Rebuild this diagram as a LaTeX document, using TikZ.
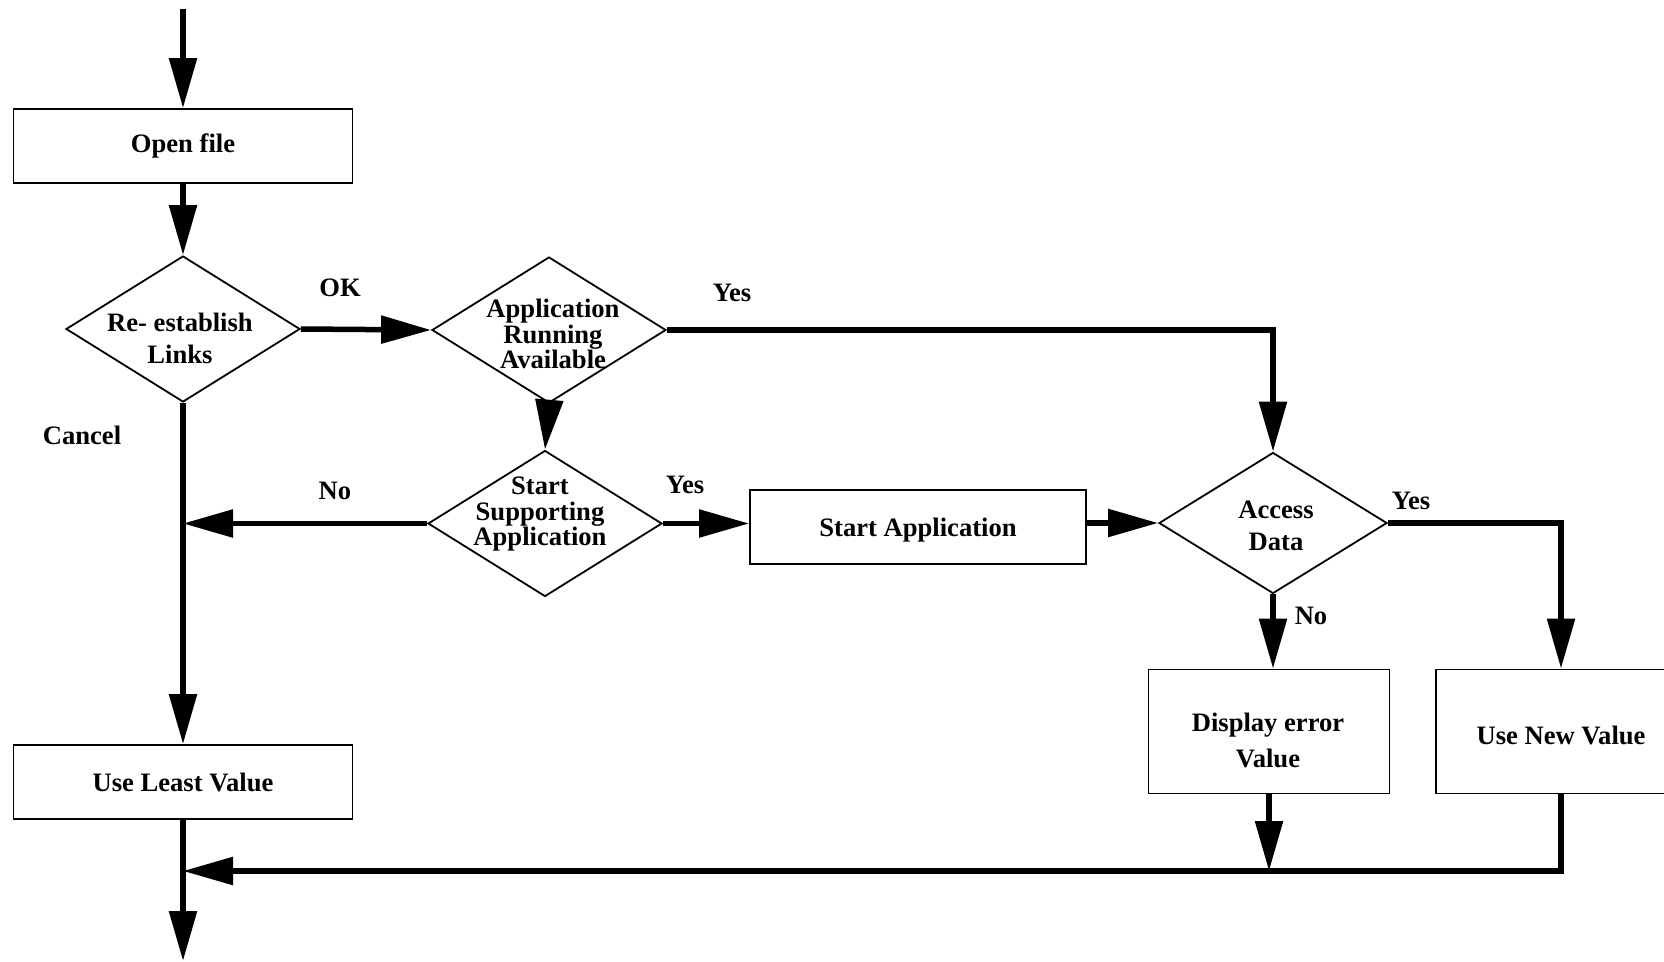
\documentclass[tikz,border=0pt]{standalone}
\usepackage{fontspec}
\setmainfont{Liberation Serif}
\usetikzlibrary{arrows.meta,shapes.geometric}
\begin{document}
\begin{tikzpicture}[x=1pt,y=-1pt,
  every node/.style={font=\fontsize{26.6}{32}\selectfont\bfseries},
  box/.style={draw,line width=1.8pt,rectangle,inner sep=0pt,
    minimum width=339pt,minimum height=74pt,align=center},
  decision/.style={draw,line width=1.8pt,diamond,inner sep=0pt,
    minimum width=234pt,minimum height=146pt},
  caption/.style={inner sep=0pt,align=center},
  flow/.style={line width=5.5pt,-{Triangle[length=50pt,width=27pt]}},
]
\useasboundingbox (0,0) rectangle (1664,961);

% process boxes
\node[box] (open) at (183,146) {Open file};
\node[box,minimum width=336pt,text depth=0pt] (sa) at (918,527) {Start Application};
\node[box,minimum width=241pt,minimum height=124pt] (disp) at (1269,731.5) {};
\node[caption,font=\fontsize{26.6}{36}\selectfont\bfseries] (dispT) at (1268,740) {Display error\\Value};
\node[box,minimum width=250pt,minimum height=124pt] (unv) at (1561,731.5) {};
\node[caption] (unvT) at (1561,735.5) {Use New Value};
\node[box] (ulv) at (183,782) {Use Least Value};

% decisions (shape and text set apart)
\node[decision] (rel) at (183,329) {};
\node[caption] (relT) at (180,338.5) {Re- establish\\Links};
\node[decision] (app) at (549,330) {};
\node[caption,font=\fontsize{26.6}{25.5}\selectfont\bfseries] (appT) at (553,334) {Application\\Running\\Available};
\node[decision] (ss) at (545,523.5) {};
\node[caption,font=\fontsize{26.6}{25.5}\selectfont\bfseries] (ssT) at (540,514.5) {Start\\Supporting\\Application};
\node[decision,minimum width=228pt,minimum height=141pt] (acc) at (1273,523) {};
\node[caption] (accT) at (1276,526) {Access\\Data};

% free ends
\coordinate (start) at (183,9);
\coordinate (finish) at (183,961);
\coordinate (join) at (1269,871);

% connectors
\draw[flow] (start) -- (open.north);
\draw[flow] (open.south) -- (rel.north);
\draw[flow] (rel.east) -- (app.west);
\draw[flow] (app.east) -| (acc.north);
\draw[flow] (app.south) -- (ss.north);
\draw[flow] (ss.west) -- (rel.south |- ss.west);
\draw[flow] (rel.south) -- (ulv.north);
\draw[flow] (ss.east) -- (ss.east -| sa.west);
\draw[flow] (sa.east |- acc.west) -- (acc.west);
\draw[flow] (acc.east) -| (unv.north);
\draw[flow] (acc.south) -- (acc.south |- disp.north);
\draw[flow] (disp.south) -- (join);
\draw[flow] (unv.south) |- (ulv.south |- join);
\draw[flow] (ulv.south) -- (finish);

% branch labels
\node[caption] (okL) at (340,288) {OK};
\node[caption] (yesA) at (732,293) {Yes};
\node[caption] (cancelL) at (82,435) {Cancel};
\node[caption] (noA) at (335,491) {No};
\node[caption] (yesB) at (685,485) {Yes};
\node[caption] (yesC) at (1411,501) {Yes};
\node[caption] (noB) at (1311,616) {No};
\end{tikzpicture}
\end{document}
